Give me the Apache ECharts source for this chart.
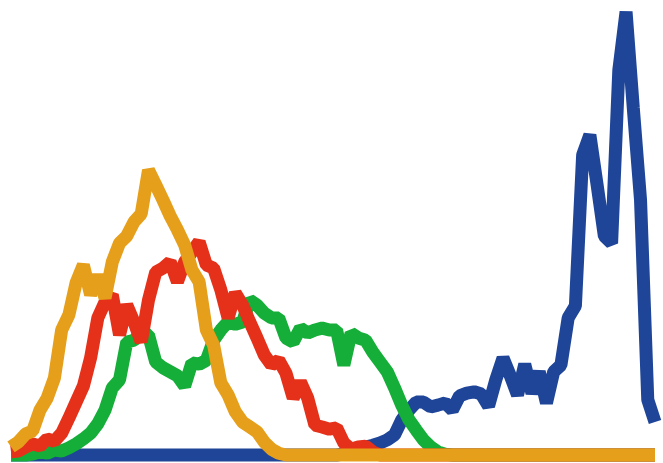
<!DOCTYPE html>
<html>
<head>
<meta charset="utf-8">
<script src="https://cdn.jsdelivr.net/npm/echarts@6/dist/echarts.min.js"></script>
<style>html,body{margin:0;padding:0;background:#fff;}#c{width:663px;height:463px;}</style>
</head>
<body>
<div id="c"></div>
<script>
var categories = [1,2,3,4,5,6,7,8,9,10,11,12,13,14,15,16,17,18,19,20,21,22,23,24,25,26,27,28,29,30,31,32,33,34,35,36,37,38,39,40,41,42,43,44,45,46,47,48,49,50,51,52,53,54,55,56,57,58,59,60,61,62,63,64,65,66,67,68,69,70,71,72,73,74,75,76,77,78,79,80,81,82,83,84,85,86,87,88,89,90];

var blueValues = [0,0,0,0,0,0,0,0,0,0, 0,0,0,0,0,0,0,0,0,0, 0,0,0,0,0,0,0,0,0,0, 0,0,0,0,0,0,0,0,0,0, 0,0,0,0,0,0,0.2,0.7,1.1,1.8,
  2.2,2.7,3.4,4.5,7.9,10.1,11.9,11.9,10.8,11.2, 11.7,10.1,13.3,13.9,14.2,13.7,11.0,16.9,21.8,17.8,
  13.5,20.4,13.9,18.7,11.7,18.7,20.2,30.8,33.5,67.4, 71.9,60.7,49.2,47.6,86.5,99.6,78.0,57.3,12.4,7.4];

var greenValues = [0,0,0,0.2,0.7,0.4,1.1,0.9,1.6,2.5, 3.6,4.9,7.0,10.1,15.1,16.9,25.4,25.8,27.4,27.0,
  20.9,19.6,18.7,17.8,15.5,20.7,20.4,21.3,25.8,28.1, 29.9,29.4,29.9,34.8,33.7,31.9,30.8,30.8,26.3,25.4,
  28.5,27.4,28.1,28.5,28.1,28.1,20.2,27.4,26.3,25.8, 23.1,20.9,18.7,15.1,11.2,7.9,5.6,3.4,1.8,0.7,
  0.2,0,0,0,0,0,0,0,0,0, 0,0,0,0,0,0,0,0,0,0, 0,0,0,0,0,0,0,0,0,0];

var redValues = [0.7,0.9,1.8,2.5,2.0,3.6,3.1,4.9,8.3,11.9, 15.5,21.8,30.8,34.4,36.0,27.0,33.7,29.9,25.4,34.8,
  41.1,42.0,43.4,38.9,43.4,45.6,47.9,42.7,42.0,37.1, 30.8,36.4,33.7,29.9,26.3,22.5,20.2,21.3,18.4,12.8,
  16.4,12.8,6.7,6.3,5.8,6.1,2.7,1.3,1.8,2.0, 0.7,0,0,0,0,0,0,0,0,0,
  0,0,0,0,0,0,0,0,0,0, 0,0,0,0,0,0,0,0,0,0, 0,0,0,0,0,0,0,0,0,0];

var orangeValues = [1.8,2.9,4.7,5.4,10.1,12.8,17.3,28.1,31.5,38.7, 42.7,36.0,40.4,35.3,43.4,47.6,49.2,52.4,54.2,64.0,
  60.7,57.3,53.7,50.6,47.2,41.6,38.9,28.1,24.7,16.2, 13.5,9.7,7.4,6.3,5.2,2.9,1.3,0.4,0,0,
  0,0,0,0,0,0,0,0,0,0, 0,0,0,0,0,0,0,0,0,0,
  0,0,0,0,0,0,0,0,0,0, 0,0,0,0,0,0,0,0,0,0, 0,0,0,0,0,0,0,0,0,0];

var seriesDefs = [
  {name: 'Blue', data: blueValues, color: '#1E4598'},
  {name: 'Green', data: greenValues, color: '#15AE38'},
  {name: 'Red', data: redValues, color: '#E5311A'},
  {name: 'Orange', data: orangeValues, color: '#E69F1A'}
];

var chart = echarts.init(document.getElementById('c'), null, {renderer: 'canvas'});
chart.setOption({
  animation: false,
  backgroundColor: '#ffffff',
  grid: {left: 11, right: 8, top: 10, bottom: 8},
  xAxis: {type: 'category', data: categories, boundaryGap: false, show: false},
  yAxis: {type: 'value', min: 0, max: 100, show: false},
  series: seriesDefs.map(function (s) {
    return {
      name: s.name,
      type: 'line',
      data: s.data,
      showSymbol: false,
      symbol: 'none',
      clip: false,
      lineStyle: {width: 13, color: s.color, join: 'bevel', cap: 'butt'},
      itemStyle: {color: s.color}
    };
  })
});
</script>
</body>
</html>
